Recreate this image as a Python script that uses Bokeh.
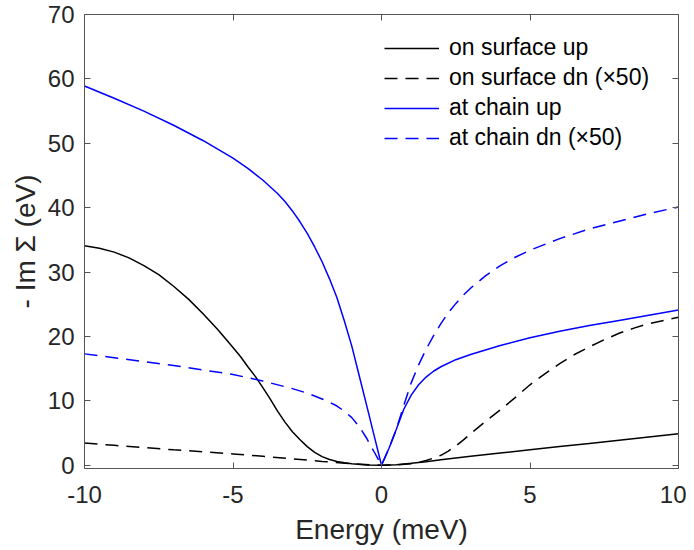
from bokeh.plotting import figure
from bokeh.models import Range1d, LinearAxis, Legend, LegendItem, FixedTicker
from bokeh.embed import file_html
from bokeh.resources import INLINE

# ---------------- data ----------------
surf_up_x = [-10, -9.5, -9, -8.5, -8, -7.5, -7, -6.5, -6, -5.5, -5, -4.75, -4.5, -4.25, -4, -3.75, -3.5,
             -3.25, -3, -2.75, -2.5, -2.25, -2, -1.75, -1.5, -1.25, -1, -0.5, 0,
             0.5, 1, 1.5, 2, 3, 4, 5, 6, 7, 8, 9, 10]
surf_up_y = [34.1, 33.7, 33.1, 32.2, 31.0, 29.6, 27.8, 25.8, 23.5, 21.0, 18.3, 16.9, 15.3, 13.8, 12.1, 10.3, 8.4,
             6.7, 5.2, 4.0, 2.9, 2.0, 1.35, 0.9, 0.6, 0.38, 0.22, 0.05, 0.0,
             0.1, 0.3, 0.55, 0.85, 1.4, 1.9, 2.4, 2.9, 3.4, 3.9, 4.4, 4.9]

surf_dn_x = [-10, -9, -8, -7, -6, -5, -4, -3, -2, -1, 0,
             0.5, 1, 1.25, 1.5, 1.75, 2, 2.25, 2.5, 2.75, 3, 3.5, 4, 4.5, 5, 5.5, 6, 6.5, 7, 7.5, 8, 8.5, 9, 9.5, 10]
surf_dn_y = [3.45, 3.1, 2.75, 2.4, 2.1, 1.75, 1.4, 1.0, 0.6, 0.25, 0.0,
             0.05, 0.25, 0.45, 0.75, 1.1, 1.55, 2.2, 3.0, 3.9, 4.9, 6.8, 8.6, 10.5, 12.5, 14.2, 15.8, 17.2, 18.4,
             19.5, 20.5, 21.3, 22.0, 22.5, 23.0]

chain_up_x = [-10, -9, -8, -7, -6, -5, -4.5, -4, -3.5, -3.25, -3, -2.75, -2.5, -2.25, -2, -1.75, -1.5, -1.25,
              -1, -0.75, -0.5, -0.25, 0,
              0.25, 0.5, 0.75, 1, 1.25, 1.5, 1.75, 2, 2.5, 3, 3.5, 4, 5, 6, 7, 8, 9, 10]
chain_up_y = [58.9, 57.0, 55.0, 52.8, 50.4, 47.7, 46.1, 44.3, 42.2, 40.95, 39.5, 37.85, 36.0, 33.9, 31.6, 28.95, 26.0,
              22.4, 18.5, 13.9, 9.3, 4.65, 0.0,
              2.6, 5.6, 8.7, 10.9, 12.5, 13.7, 14.6, 15.3, 16.4, 17.2, 17.9, 18.6, 19.8, 20.8, 21.7, 22.5, 23.3, 24.1]

chain_dn_x = [-10, -9, -8, -7, -6, -5, -4, -3, -2.5, -2, -1.75, -1.5, -1.25, -1, -0.75, -0.5, -0.25, 0,
              0.25, 0.5, 0.75, 1, 1.25, 1.5, 1.75, 2, 2.25, 2.5, 2.75, 3, 3.5, 4, 4.5, 5, 6, 7, 8, 9, 10]
chain_dn_y = [17.3, 16.7, 16.1, 15.5, 14.8, 14.1, 13.1, 11.9, 11.2, 10.3, 9.8, 9.2, 8.4, 7.4, 6.0, 4.2, 2.1, 0.0,
              2.6, 5.6, 9.3, 12.8, 15.6, 18.0, 20.1, 22.0, 23.7, 25.1, 26.4, 27.5, 29.4, 31.0, 32.3, 33.4,
              35.2, 36.7, 37.9, 39.1, 40.1]

x_ticks = [-10, -5, 0, 5, 10]
y_ticks = [0, 10, 20, 30, 40, 50, 60, 70]

legend_labels = ["on surface up", "on surface dn (\u00d750)", "at chain up", "at chain dn (\u00d750)"]

# ---------------- styling ----------------
FONT = "Liberation Sans"
AXC = "#555555"
TXC = "#262626"

p = figure(width=686, height=550, output_backend="svg", toolbar_location=None,
           x_range=Range1d(-10, 10), y_range=Range1d(-0.5, 70),
           min_border_left=84, min_border_right=8, min_border_top=14, min_border_bottom=82)
p.outline_line_color = None
p.grid.visible = False
p.background_fill_color = "white"

for ax, ticks in ((p.xaxis[0], x_ticks), (p.yaxis[0], y_ticks)):
    ax.ticker = FixedTicker(ticks=ticks)
    ax.major_tick_in = 6
    ax.major_tick_out = 0
    ax.minor_tick_in = 0
    ax.minor_tick_out = 0
    ax.axis_line_color = AXC
    ax.major_tick_line_color = AXC
    ax.major_label_text_font = FONT
    ax.major_label_text_font_size = "24px"
    ax.major_label_text_color = TXC
    ax.axis_label_text_font = FONT
    ax.axis_label_text_font_size = "28px"
    ax.axis_label_text_font_style = "normal"
    ax.axis_label_text_color = TXC

p.xaxis[0].major_label_overrides = {t: ("-%d" % -t if t < 0 else "%d" % t) for t in x_ticks}
p.xaxis[0].axis_label = "Energy (meV)"
p.xaxis[0].major_label_standoff = 17
p.xaxis[0].axis_label_standoff = 8
p.yaxis[0].axis_label = "- Im \u03a3 (eV)"
p.yaxis[0].major_label_standoff = 10
p.yaxis[0].axis_label_standoff = 4

# box axes (top / right): tick marks only
top = LinearAxis(ticker=FixedTicker(ticks=x_ticks))
right = LinearAxis(ticker=FixedTicker(ticks=y_ticks))
for ax in (top, right):
    ax.major_tick_in = 6
    ax.major_tick_out = 0
    ax.minor_tick_in = 0
    ax.minor_tick_out = 0
    ax.axis_line_color = AXC
    ax.major_tick_line_color = AXC
    ax.major_label_text_color = None
    ax.major_label_text_font_size = "1px"
    ax.major_label_standoff = 0
    ax.axis_label_standoff = 0
p.add_layout(top, "above")
p.add_layout(right, "right")

# curves
r1 = p.line(surf_up_x, surf_up_y, line_color="#000000", line_width=1.5)
r2 = p.line(surf_dn_x, surf_dn_y, line_color="#000000", line_width=1.5, line_dash="13 8")
r3 = p.line(chain_up_x, chain_up_y, line_color="#0000ff", line_width=1.5)
r4 = p.line(chain_dn_x, chain_dn_y, line_color="#0000ff", line_width=1.5, line_dash="13 8")

legend = Legend(items=[LegendItem(label=l, renderers=[r]) for l, r in zip(legend_labels, [r1, r2, r3, r4])],
                location=(300, 317))
legend.label_text_font = FONT
legend.label_text_font_size = "23px"
legend.label_text_color = "#000000"
legend.glyph_width = 55
legend.glyph_height = 20
legend.label_height = 20
legend.label_standoff = 10
legend.spacing = 3
legend.padding = 10
legend.margin = 0
legend.border_line_color = None
legend.background_fill_alpha = 0
p.add_layout(legend, "center")

open("out.html", "w").write(file_html(p, INLINE))
